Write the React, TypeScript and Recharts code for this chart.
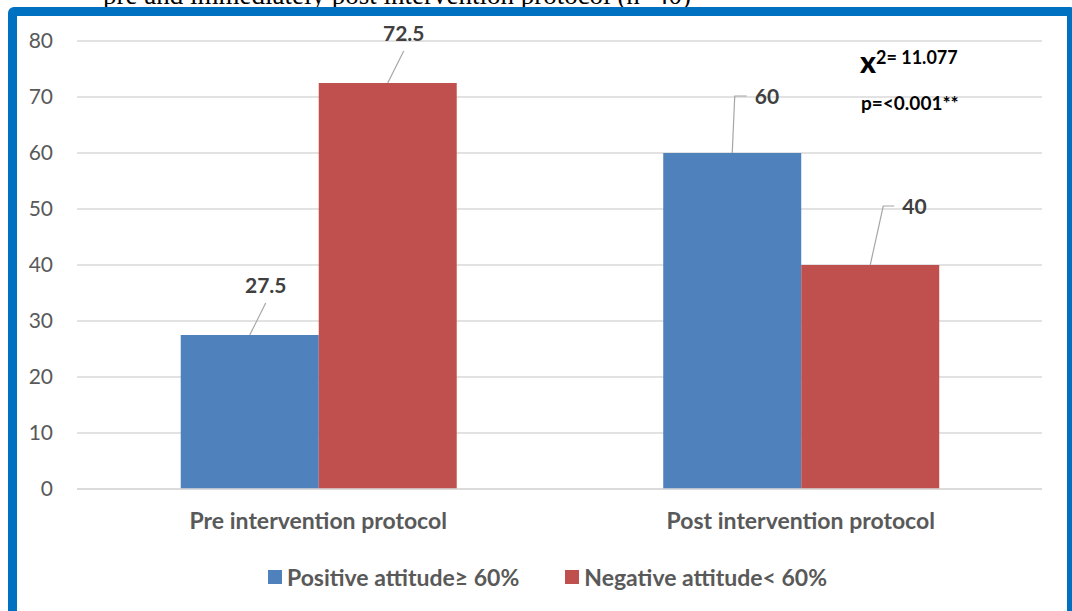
import React from "react";
import { BarChart, Bar, XAxis, YAxis, CartesianGrid, Legend, LabelList } from "recharts";

const categories = ["Pre intervention protocol", "Post intervention protocol"];
const positiveAttitude = [27.5, 60];
const negativeAttitude = [72.5, 40];
const seriesNames = ["Positive attitude≥ 60%", "Negative attitude< 60%"];
const yTicks = [0, 10, 20, 30, 40, 50, 60, 70, 80];
const chiSquare = "11.077";
const pValue = "p=<0.001**";

const FONT = "Lato, 'Noto Sans', sans-serif";
const BLUE = "#4F81BD";
const RED = "#C0504D";
const seriesColors = [BLUE, RED];

const data = categories.map((name, i) => ({
  name,
  positive: positiveAttitude[i],
  negative: negativeAttitude[i],
}));

// leader line shape for each data label: lx/ly move from the bar top,
// elbow labels get a short horizontal arm with the text to its right
type Guide = { lx: number; ly: number; arm?: number };
const positiveGuides: Guide[] = [
  { lx: 16, ly: -32 },
  { lx: 2.5, ly: -57, arm: 12 },
];
const negativeGuides: Guide[] = [
  { lx: 16, ly: -32 },
  { lx: 13, ly: -59, arm: 11 },
];

const makeLabel = (guides: Guide[]) => (props: any) => {
  const { x, y, width, value, index } = props;
  const g = guides[index];
  const bx = Number(x) + Number(width) / 2;
  const by = Number(y);
  const ex = bx + g.lx;
  const ey = by + g.ly;
  const textStyle = { fontFamily: FONT, fontWeight: 700, fontSize: 21, fill: "#404040" };
  if (g.arm) {
    return (
      <g>
        <polyline
          points={`${bx},${by} ${ex},${ey} ${ex + g.arm},${ey}`}
          fill="none"
          stroke="#a6a6a6"
          strokeWidth={1.2}
        />
        <text x={ex + g.arm + 8} y={ey + 8} textAnchor="start" style={textStyle}>
          {value}
        </text>
      </g>
    );
  }
  return (
    <g>
      <line x1={bx} y1={by} x2={ex} y2={ey} stroke="#a6a6a6" strokeWidth={1.2} />
      <text x={ex} y={ey - 10} textAnchor="middle" style={textStyle}>
        {value}
      </text>
    </g>
  );
};

// legend drawn in series order
const renderLegend = () => (
  <div
    style={{
      display: "flex",
      justifyContent: "center",
      gap: 46,
      position: "relative",
      left: 18,
      paddingTop: 24,
    }}
  >
    {seriesNames.map((label, i) => (
      <div key={label} style={{ display: "flex", alignItems: "center" }}>
        <span style={{ width: 14, height: 14, background: seriesColors[i], marginRight: 5 }} />
        <span style={{ fontFamily: FONT, fontWeight: 700, fontSize: 23, color: "#595959" }}>
          {label}
        </span>
      </div>
    ))}
  </div>
);

export default function App() {
  return (
    <div
      style={{
        position: "fixed",
        left: 0,
        top: 0,
        width: 1072,
        height: 611,
        overflow: "hidden",
        background: "#fff",
      }}
    >
      <div
        style={{
          position: "absolute",
          left: 103,
          top: -15,
          fontFamily: "'Liberation Serif', 'Times New Roman', serif",
          fontSize: 27,
          lineHeight: "20px",
          whiteSpace: "nowrap",
          color: "#000",
        }}
      >
        pre and immediately post intervention protocol (n=40)
      </div>
      <div
        style={{
          position: "absolute",
          left: 8,
          top: 7,
          width: 1068,
          height: 700,
          boxSizing: "border-box",
          border: "9px solid #0070C0",
          borderRadius: 6,
          background: "#fff",
        }}
      />
      <div style={{ position: "absolute", left: 0, top: 0 }}>
        <BarChart
          width={1072}
          height={611}
          data={data}
          margin={{ top: 41, right: 30, left: 17, bottom: 10 }}
          barCategoryGap="21.5%"
          barGap={0}
        >
          <CartesianGrid vertical={false} stroke="#d9d9d9" strokeWidth={1.3} />
          <XAxis
            dataKey="name"
            height={50}
            axisLine={{ stroke: "#d9d9d9", strokeWidth: 1.3 }}
            tickLine={false}
            tickSize={0}
            tickMargin={24}
            tick={{ fontFamily: FONT, fontWeight: 700, fontSize: 23, fill: "#595959" }}
          />
          <YAxis
            width={60}
            domain={[0, 80]}
            ticks={yTicks}
            axisLine={false}
            tickLine={false}
            tickSize={0}
            tickMargin={24}
            tick={{ fontFamily: FONT, fontSize: 21, fill: "#595959" }}
          />
          <Legend verticalAlign="bottom" height={62} content={renderLegend} />
          <Bar dataKey="positive" name={seriesNames[0]} fill={BLUE} isAnimationActive={false}>
            <LabelList dataKey="positive" content={makeLabel(positiveGuides)} />
          </Bar>
          <Bar dataKey="negative" name={seriesNames[1]} fill={RED} isAnimationActive={false}>
            <LabelList dataKey="negative" content={makeLabel(negativeGuides)} />
          </Bar>
        </BarChart>
      </div>
      <div
        style={{
          position: "absolute",
          left: 860,
          top: 43,
          fontFamily: FONT,
          fontWeight: 700,
          color: "#000",
          whiteSpace: "nowrap",
        }}
      >
        <span style={{ fontSize: 30, fontWeight: 900 }}>x</span>
        <sup style={{ fontSize: 18, verticalAlign: 9 }}>2= {chiSquare}</sup>
      </div>
      <div
        style={{
          position: "absolute",
          left: 861,
          top: 91,
          fontFamily: FONT,
          fontWeight: 700,
          fontSize: 19,
          color: "#000",
          whiteSpace: "nowrap",
        }}
      >
        {pValue}
      </div>
    </div>
  );
}
